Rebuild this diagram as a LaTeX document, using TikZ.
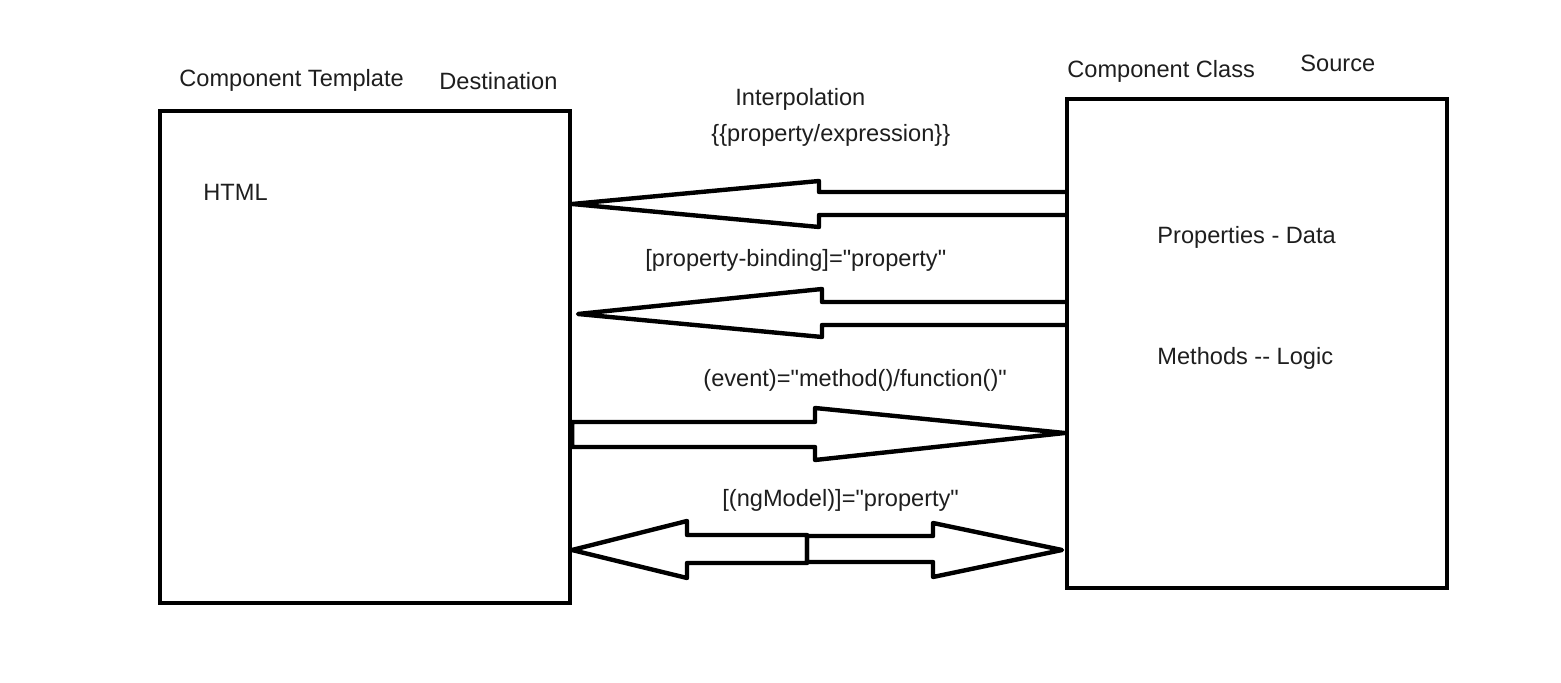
\documentclass[tikz,border=0pt]{standalone}
\usepackage{fontspec}
\setmainfont{Liberation Sans}[Ligatures=TeXOff]
\definecolor{txt}{HTML}{1E1E1E}
\begin{document}
\begin{tikzpicture}[x=0.5pt,y=-0.5pt,
  box/.style={draw=black,line width=2.2pt,inner sep=0pt},
  lbl/.style={anchor=base west,inner sep=0pt,text=txt,font=\fontsize{11.8}{14}\selectfont},
  blockarrow/.style={draw=black,line width=2.2pt,line join=round}]
\useasboundingbox (0,0) rectangle (1561,683);
\node[box,minimum width=205pt,minimum height=246pt] (tmpl) at (365,357) {};
\node[box,minimum width=190pt,minimum height=244.5pt] (cls) at (1257,343.5) {};
% labels
\node[lbl] (l1) at (179,87) {Component Template};
\node[lbl] (l2) at (439,90) {Destination};
\node[lbl] (l3) at (1067,78) {Component Class};
\node[lbl] (l4) at (1300,72) {Source};
\node[lbl] (l5) at (735,106) {Interpolation};
\node[lbl] (l6) at (711,142) {\{\{property/expression\}\}};
\node[lbl] (l7) at (203,201) {HTML};
\node[lbl] (l8) at (1157,244) {Properties - Data};
\node[lbl] (l9) at (645,267) {[property-binding]="property"};
\node[lbl] (l10) at (1157,365) {Methods -- Logic};
\node[lbl] (l11) at (703,387) {(event)="method()/function()"};
\node[lbl] (l12) at (722,506) {[(ngModel)]="property"};
% arrows
\draw[blockarrow] (cls.west |- 0,192) -- (819,192) -- (819,181) -- (tmpl.east |- 0,204)
  -- (819,227) -- (819,215) -- (cls.west |- 0,215);
\draw[blockarrow] (cls.west |- 0,302) -- (822,302) -- (822,289) -- (578,314)
  -- (822,337) -- (822,325) -- (cls.west |- 0,325);
\draw[blockarrow] (tmpl.east |- 0,422) -- (815,422) -- (815,408) -- (cls.west |- 0,433)
  -- (815,460) -- (815,447) -- (tmpl.east |- 0,447) -- cycle;
\draw[blockarrow] (807,535) -- (687,535) -- (687,521) -- (572,550)
  -- (687,578) -- (687,563) -- (807,563) -- cycle;
\draw[blockarrow] (807,536) -- (933,536) -- (933,523) -- (1062,550)
  -- (933,577) -- (933,562) -- (807,562) -- cycle;
\end{tikzpicture}
\end{document}
